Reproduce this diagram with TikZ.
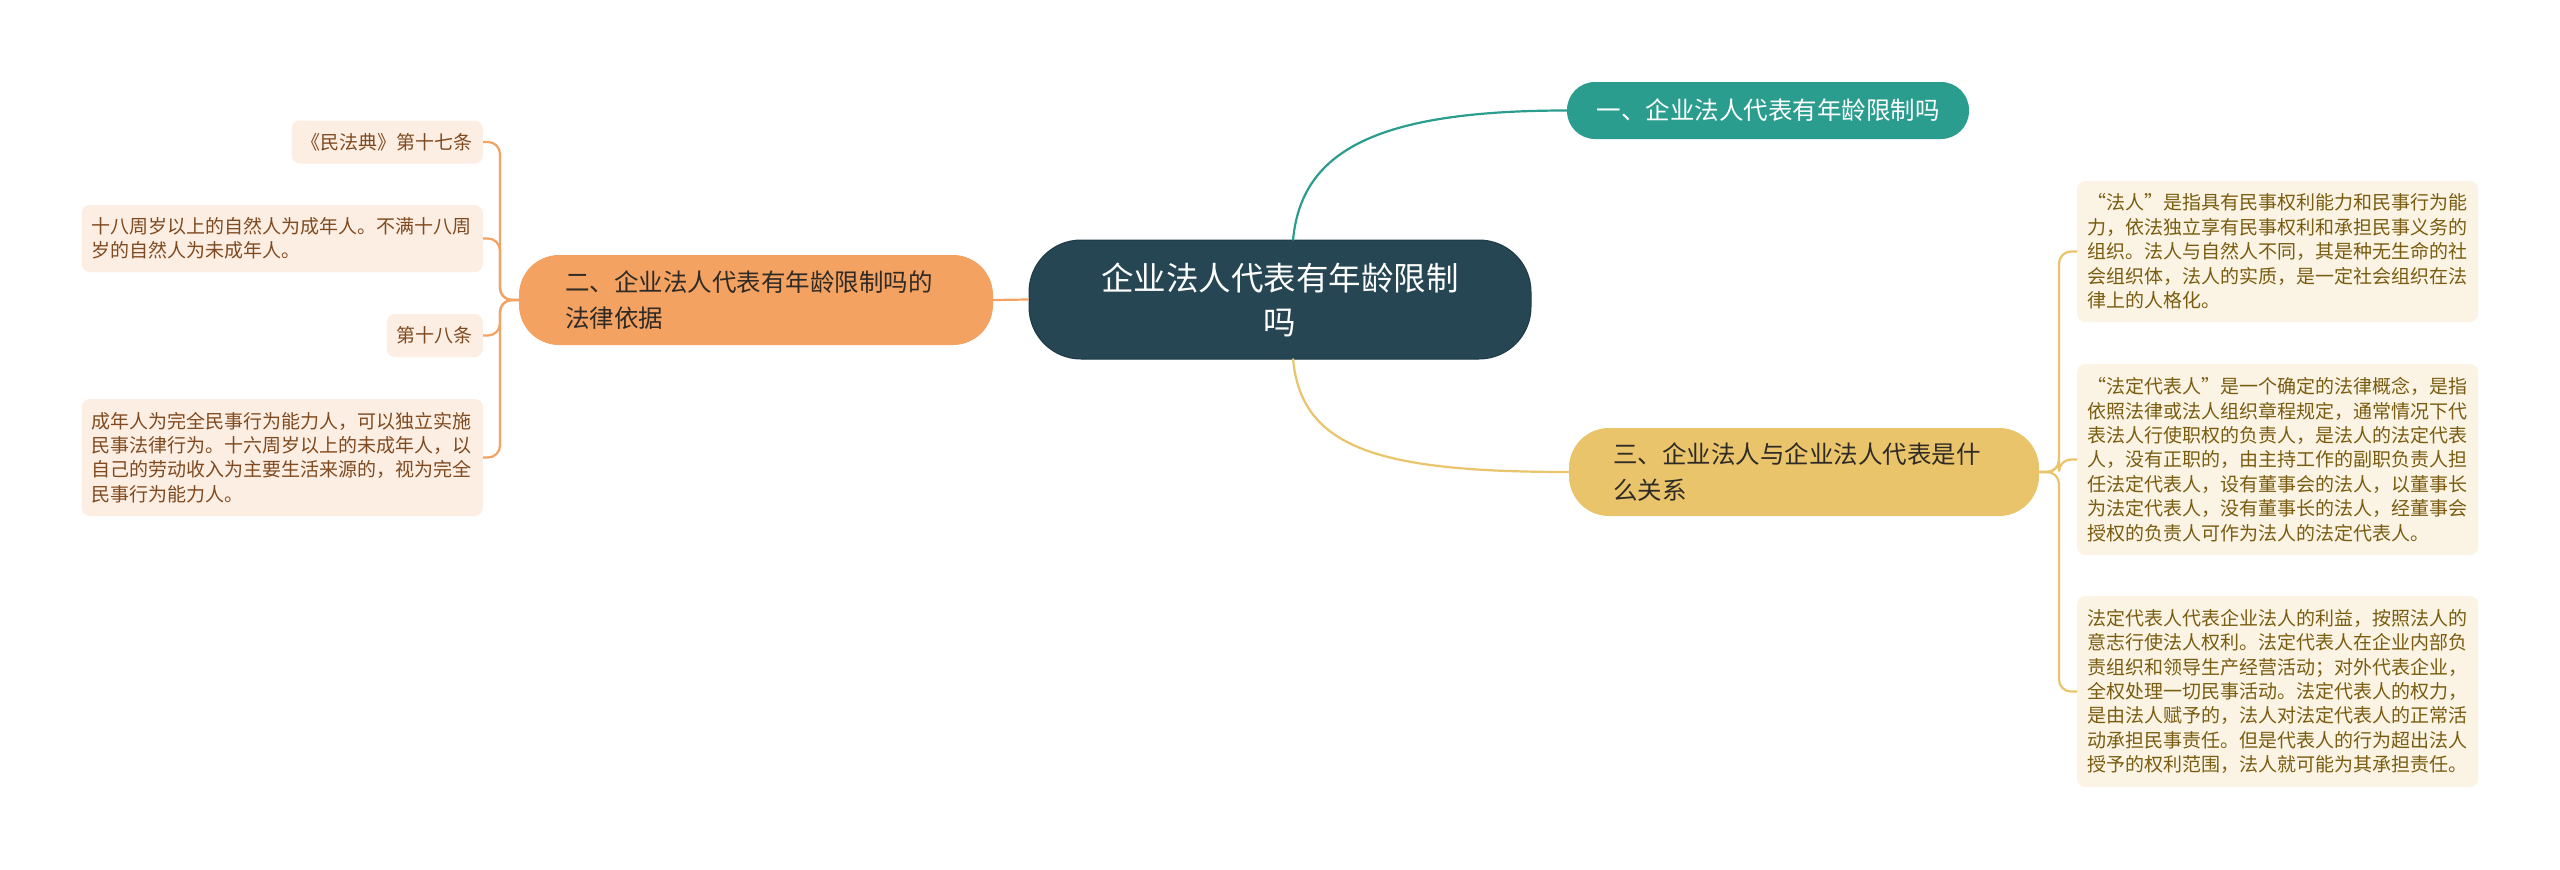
\documentclass[tikz,border=0pt]{standalone}
\usepackage{fontspec}
\setmainfont{Noto Sans CJK SC}
\newfontfamily\fwq[RawFeature=+fwid]{Noto Sans CJK SC}
\usetikzlibrary{calc}
\definecolor{cdark}{HTML}{264653}
\definecolor{cdarkb}{HTML}{1E3A45}
\definecolor{cteal}{HTML}{2A9D8F}
\definecolor{corange}{HTML}{F4A261}
\definecolor{cyellow}{HTML}{E9C46A}
\definecolor{cLfill}{HTML}{FDEEE3}
\definecolor{cLtext}{HTML}{7F4A1F}
\definecolor{cRfill}{HTML}{FBF4E4}
\definecolor{cRtext}{HTML}{7A5C10}
\definecolor{cdtext}{HTML}{2E2A26}
\tikzset{
  rootnode/.style={fill=cdark, draw=cdarkb, line width=1pt, text=white, rounded corners=52pt,
    minimum width=502pt, minimum height=119pt, align=center, inner sep=0pt,
    font=\fontsize{32.5}{44}\selectfont},
  tealnode/.style={fill=cteal, text=white, rounded corners=28pt, inner xsep=29.5pt, inner ysep=0pt,
    minimum height=57pt, font=\fontsize{24.5}{36}\selectfont},
  orangenode/.style={fill=corange, text=cdtext, rounded corners=40pt, inner xsep=46pt, inner ysep=0pt,
    text width=382pt, align=left, minimum height=90pt, font=\fontsize{24.5}{36}\selectfont},
  yellownode/.style={fill=cyellow, text=cdtext, rounded corners=40pt, inner xsep=44pt, inner ysep=0pt,
    text width=382pt, align=left, minimum height=88pt, font=\fontsize{24.5}{36}\selectfont},
  leafL/.style={fill=cLfill, text=cLtext, rounded corners=8pt, inner xsep=10pt, inner ysep=0pt,
    font=\fontsize{19}{24.4}\selectfont},
  leafR/.style={fill=cRfill, text=cRtext, rounded corners=8pt, inner xsep=10pt, inner ysep=0pt,
    text width=381pt, align=left, font=\fontsize{19}{24.4}\selectfont},
  wide/.style={text width=381pt, align=left},
  tline/.style={draw=cteal, line width=2.2pt},
  oline/.style={draw=corange, line width=2.2pt},
  yline/.style={draw=cyellow, line width=2.2pt},
}
\begin{document}
\begin{tikzpicture}[x=1pt,y=-1pt]
\useasboundingbox (0,0) rectangle (2560,870);
\fill[white] (0,0) rectangle (2560,870);

% main nodes
\node[rootnode] (c) at (1280,299.5) {企业法人代表有年龄限制\\吗};
\node[tealnode] (n1) at (1768,110.5) {一、企业法人代表有年龄限制吗};
\node[orangenode] (n2) at (756,300) {二、企业法人代表有年龄限制吗的\\法律依据};
\node[yellownode] (n3) at (1804,472) {三、企业法人与企业法人代表是什\\么关系};

% left leaves
\node[leafL, anchor=east, minimum height=43pt] (L1) at (483,142) {《民法典》第十七条};
\node[leafL, wide, anchor=east, minimum height=67pt] (L2) at (483,238.5)
  {十八周岁以上的自然人为成年人。不满十八周\\岁的自然人为未成年人。};
\node[leafL, anchor=east, minimum height=43pt] (L3) at (483,335.5) {第十八条};
\node[leafL, wide, anchor=east, minimum height=117pt] (L4) at (483,457.5)
  {成年人为完全民事行为能力人，可以独立实施\\民事法律行为。十六周岁以上的未成年人，以\\自己的劳动收入为主要生活来源的，视为完全\\民事行为能力人。};

% right leaves
\node[leafR, anchor=west, minimum height=141pt] (R1) at (2077,251.5)
  {{\fwq “}法人{\fwq ”}是指具有民事权利能力和民事行为能\\力，依法独立享有民事权利和承担民事义务的\\组织。法人与自然人不同，其是种无生命的社\\会组织体，法人的实质，是一定社会组织在法\\律上的人格化。};
\node[leafR, anchor=west, minimum height=191pt] (R2) at (2077,459.5)
  {{\fwq “}法定代表人{\fwq ”}是一个确定的法律概念，是指\\依照法律或法人组织章程规定，通常情况下代\\表法人行使职权的负责人，是法人的法定代表\\人，没有正职的，由主持工作的副职负责人担\\任法定代表人，设有董事会的法人，以董事长\\为法定代表人，没有董事长的法人，经董事会\\授权的负责人可作为法人的法定代表人。};
\node[leafR, anchor=west, minimum height=191pt] (R3) at (2077,691.5)
  {法定代表人代表企业法人的利益，按照法人的\\意志行使法人权利。法定代表人在企业内部负\\责组织和领导生产经营活动；对外代表企业，\\全权处理一切民事活动。法定代表人的权力，\\是由法人赋予的，法人对法定代表人的正常活\\动承担民事责任。但是代表人的行为超出法人\\授予的权利范围，法人就可能为其承担责任。};

% connectors from root
\coordinate (ct) at ($(c.north)+(13,1)$);
\coordinate (cb) at ($(c.south)+(13,-1)$);
\begin{scope}[on background layer/.style={}]
\draw[tline] (ct) .. controls ($(ct)+(8,-90)$) and ($(n1.west)+(-190,0)$) .. (n1.west);
\draw[yline] (cb) .. controls ($(cb)+(8,90)$) and ($(n3.west)+(-190,0)$) .. (n3.west);
\draw[oline] (c.west) -- (n2.east);
\end{scope}

% left bracket
\coordinate (sl) at (500,300);
\foreach \t in {L1,L2,L3,L4}
  \draw[oline, rounded corners=12pt] (n2.west) -- (sl) |- (\t.east);

% right bracket
\coordinate (sr) at (2059,472);
\foreach \t in {R1,R2,R3}
  \draw[yline, rounded corners=12pt] (n3.east) -- (sr) |- (\t.west);
\end{tikzpicture}
\end{document}
